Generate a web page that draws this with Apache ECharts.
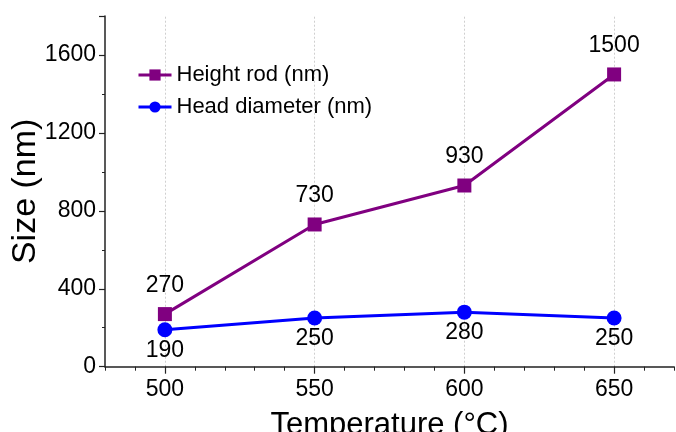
<!DOCTYPE html>
<html>
<head>
<meta charset="utf-8">
<script src="https://cdn.jsdelivr.net/npm/echarts@6/dist/echarts.min.js"></script>
<style>
html,body{margin:0;padding:0;background:#fff;}
#chart{width:676px;height:432px;}
</style>
</head>
<body>
<div id="chart"></div>
<script>
const temperatures = [500, 550, 600, 650];
const heightRod = [270, 730, 930, 1500];
const headDiameter = [190, 250, 280, 250];
const xTickValues = [500, 550, 600, 650];
const seriesNames = ['Height rod (nm)', 'Head diameter (nm)'];

const FONT = '"Liberation Sans", Arial, sans-serif';
const chart = echarts.init(document.getElementById('chart'), null, {renderer: 'canvas'});

const option = {
  backgroundColor: '#fff',
  animation: false,
  textStyle: {fontFamily: FONT, color: '#000'},
  grid: {left: 105, right: 2, top: 16, bottom: 65.3, containLabel: false, outerBoundsMode: 'none'},
  legend: {
    orient: 'vertical',
    left: 137,
    top: 64,
    padding: 0,
    itemWidth: 33,
    itemHeight: 14,
    itemGap: 10,
    lineStyle: {width: 3},
    textStyle: {fontFamily: FONT, fontSize: 22, color: '#000'},
    data: seriesNames
  },
  xAxis: [{
    type: 'value',
    min: 480, max: 670, interval: 10,
    name: 'Temperature (°C)',
    nameLocation: 'middle',
    nameGap: 43,
    nameTextStyle: {fontFamily: FONT, fontSize: 31, color: '#000'},
    axisLine: {show: true, onZero: false, lineStyle: {color: '#222', width: 1.5}},
    axisTick: {show: true, inside: false, length: 4, lineStyle: {color: '#222', width: 1}},
    axisLabel: {
      show: true, margin: 11, fontFamily: FONT, fontSize: 23, color: '#000',
      formatter: v => (xTickValues.indexOf(v) >= 0 ? String(v) : '')
    },
    splitLine: {show: false}
  }, {
    type: 'value',
    min: 480, max: 670,
    position: 'bottom',
    offset: 0,
    axisLine: {show: false, onZero: false},
    axisTick: {show: true, length: 7, customValues: xTickValues, lineStyle: {color: '#222', width: 1.2}},
    axisLabel: {show: false},
    splitLine: {show: false}
  }],
  yAxis: {
    type: 'value',
    min: 0, max: 1800, interval: 400,
    name: 'Size (nm)',
    nameLocation: 'middle',
    nameGap: 62,
    nameMoveOverlap: false,
    nameTextStyle: {fontFamily: FONT, fontSize: 34, color: '#000'},
    axisLine: {show: true, onZero: false, lineStyle: {color: '#222', width: 1.5}},
    axisTick: {show: true, inside: false, length: 6, lineStyle: {color: '#222', width: 1.2}},
    minorTick: {show: true, splitNumber: 2, length: 3, lineStyle: {color: '#222', width: 1}},
    axisLabel: {
      margin: 9, fontFamily: FONT, fontSize: 23, color: '#000',
      formatter: v => (v % 400 === 0 && v < 1800 ? String(v) : '')
    },
    splitLine: {show: false},
    minorSplitLine: {show: false}
  },
  series: [{
    name: 'grid-lines',
    type: 'line',
    xAxisIndex: 0,
    data: [],
    z: 0,
    silent: true,
    markLine: {
      silent: true,
      z: 0,
      symbol: 'none',
      label: {show: false},
      lineStyle: {color: '#cfcfcf', width: 1, type: [2, 2]},
      data: xTickValues.map(v => ({xAxis: v}))
    }
  }, {
    name: seriesNames[0],
    type: 'line',
    xAxisIndex: 0,
    data: temperatures.map((t, i) => [t, heightRod[i]]),
    symbol: 'rect',
    symbolSize: 14,
    lineStyle: {color: '#800080', width: 3},
    itemStyle: {color: '#800080', borderColor: '#800080', borderWidth: 0, opacity: 1},
    label: {show: true, position: 'top', distance: 10, fontFamily: FONT, fontSize: 23, color: '#000',
      formatter: p => String(p.value[1])},
    z: 3
  }, {
    name: seriesNames[1],
    type: 'line',
    xAxisIndex: 0,
    data: temperatures.map((t, i) => [t, headDiameter[i]]),
    symbol: 'circle',
    symbolSize: 15,
    lineStyle: {color: '#0000ff', width: 3},
    itemStyle: {color: '#0000ff', borderColor: '#0000ff', borderWidth: 0, opacity: 1},
    label: {show: true, position: 'bottom', distance: 2, fontFamily: FONT, fontSize: 23, color: '#000',
      formatter: p => String(p.value[1])},
    z: 3
  }]
};
chart.setOption(option);
</script>
</body>
</html>
